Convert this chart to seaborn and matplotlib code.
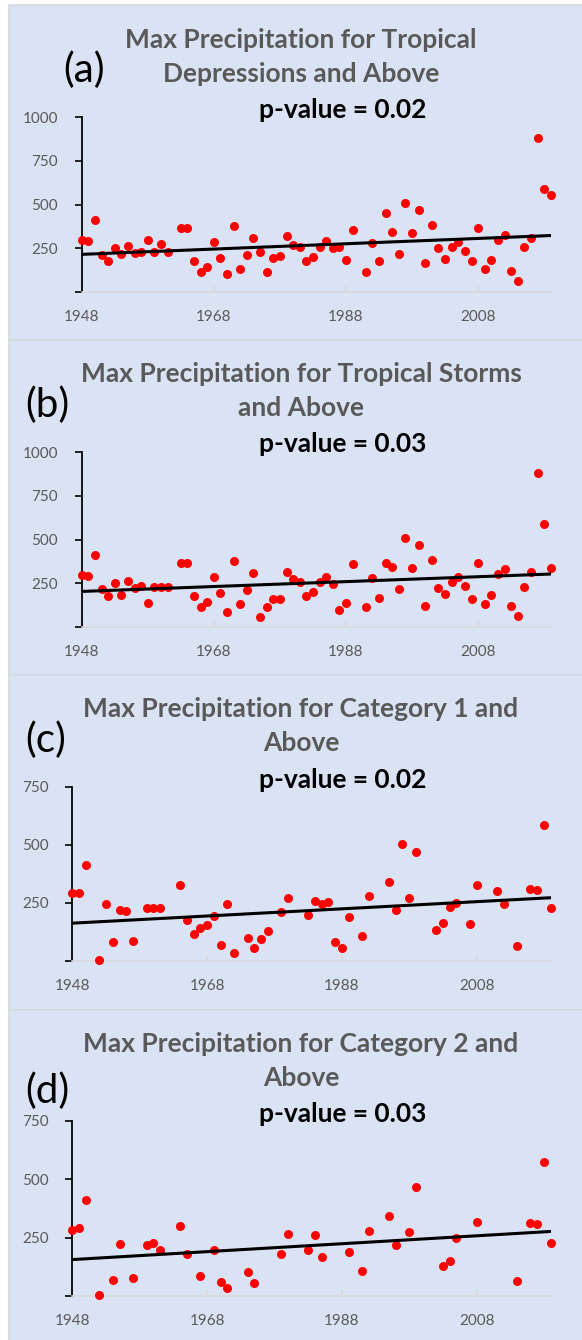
import matplotlib
matplotlib.use("Agg")
import matplotlib.pyplot as plt
import seaborn as sns
from matplotlib.patches import Rectangle

# ---------------- data ----------------
years_a = [1948, 1949, 1950, 1951, 1952, 1953, 1954, 1955, 1956, 1957, 1958, 1959, 1960, 1961,
           1963, 1964, 1965, 1966, 1967, 1968, 1969, 1970, 1971, 1972, 1973, 1974, 1975, 1976,
           1977, 1978, 1979, 1980, 1981, 1982, 1983, 1984, 1985, 1986, 1987, 1988, 1989,
           1991, 1992, 1993, 1994, 1995, 1996, 1997, 1998, 1999, 2000, 2001, 2002, 2003, 2004,
           2005, 2006, 2007, 2008, 2009, 2010, 2011, 2012, 2013, 2014, 2015, 2016, 2017, 2018, 2019]
precip_a = [298, 292, 412, 212, 176, 250, 218, 263, 221, 227, 298, 231, 277, 231,
            365, 365, 179, 116, 141, 284, 193, 103, 378, 130, 210, 309, 229, 116,
            195, 204, 321, 269, 256, 176, 198, 260, 290, 250, 260, 183, 355,
            116, 281, 179, 454, 344, 218, 508, 340, 469, 164, 384, 250, 191, 260,
            284, 237, 179, 365, 130, 183, 300, 328, 122, 63, 256, 309, 880, 588, 553]

years_b = [1948, 1949, 1950, 1951, 1952, 1953, 1954, 1955, 1956, 1957, 1958, 1959, 1960, 1961,
           1963, 1964, 1965, 1966, 1967, 1968, 1969, 1970, 1971, 1972, 1973, 1974, 1975, 1976,
           1977, 1978, 1979, 1980, 1981, 1982, 1983, 1984, 1985, 1986, 1987, 1988, 1989,
           1991, 1992, 1993, 1994, 1995, 1996, 1997, 1998, 1999, 2000, 2001, 2002, 2003, 2004,
           2005, 2006, 2007, 2008, 2009, 2010, 2011, 2012, 2013, 2014, 2015, 2016, 2017, 2018, 2019]
precip_b = [298, 292, 412, 218, 176, 250, 183, 263, 221, 237, 139, 231, 231, 231,
            365, 365, 179, 116, 141, 284, 193, 88, 378, 130, 210, 309, 59, 116,
            160, 160, 317, 275, 260, 176, 198, 260, 286, 246, 97, 135, 359,
            116, 281, 164, 365, 344, 218, 508, 340, 469, 120, 384, 225, 191, 260,
            288, 237, 160, 365, 130, 183, 305, 330, 122, 63, 227, 313, 880, 588, 340]

years_c = [1948, 1949, 1950, 1952, 1953, 1954, 1955, 1956, 1957, 1959, 1960, 1961, 1964, 1965,
           1966, 1967, 1968, 1969, 1970, 1971, 1972, 1974, 1975, 1976, 1977, 1979, 1980, 1983,
           1984, 1985, 1986, 1987, 1988, 1989, 1991, 1992, 1995, 1996, 1997, 1998, 1999, 2002,
           2003, 2004, 2005, 2007, 2008, 2011, 2012, 2014, 2016, 2017, 2018, 2019]
precip_c = [294, 291, 413, 5, 245, 80, 221, 216, 87, 230, 226, 230, 328, 177,
            118, 141, 155, 195, 67, 245, 35, 101, 57, 96, 127, 209, 271, 198,
            259, 245, 252, 83, 54, 188, 107, 278, 341, 219, 504, 272, 468, 133,
            165, 231, 248, 158, 327, 302, 244, 64, 311, 307, 585, 226]

years_d = [1948, 1949, 1950, 1952, 1954, 1955, 1957, 1959, 1960, 1961, 1964, 1965, 1967, 1969,
           1970, 1971, 1974, 1975, 1979, 1980, 1983, 1984, 1985, 1989, 1991, 1992, 1995, 1996,
           1998, 1999, 2003, 2004, 2005, 2008, 2014, 2016, 2017, 2018, 2019]
precip_d = [282, 290, 412, 5, 70, 222, 79, 219, 228, 198, 298, 179, 84, 195,
            59, 35, 101, 55, 178, 265, 197, 260, 167, 188, 108, 280, 341, 217,
            274, 468, 128, 151, 250, 318, 64, 311, 308, 575, 227]

panel_letters = ["(a)", "(b)", "(c)", "(d)"]
titles = ["Max Precipitation for Tropical\nDepressions and Above",
          "Max Precipitation for Tropical Storms\nand Above",
          "Max Precipitation for Category 1 and\nAbove",
          "Max Precipitation for Category 2 and\nAbove"]
pvalues = ["p-value = 0.02", "p-value = 0.03", "p-value = 0.02", "p-value = 0.03"]
xticks = [1948, 1968, 1988, 2008]
yticks_ab = [0, 250, 500, 750, 1000]
yticks_cd = [0, 250, 500, 750]

# ---------------- style ----------------
sns.set_theme(style="white")
plt.rcParams["font.family"] = ["Lato", "DejaVu Sans"]

W, H = 582, 1340
fig = plt.figure(figsize=(W / 100, H / 100), dpi=100, facecolor="white")


def fx(px):
    return px / W


def fy(py):
    return 1 - py / H


PANEL_BG = "#dae3f3"
GREY_TXT = "#595959"

# panel boxes (top, bottom) in pixels
boxes = [(5, 340), (340, 675), (675, 1010), (1010, 1350)]
for top, bot in boxes:
    fig.patches.append(Rectangle((fx(9), fy(bot)), fx(W + 10) - fx(9), (bot - top) / H,
                                 transform=fig.transFigure, facecolor=PANEL_BG,
                                 edgecolor="#d6dae0", lw=1.2, zorder=-5))

# axes geometry (left, right, top, bottom) in pixels
geoms = [(81.7, 550.8, 117.3, 292.0),
         (81.7, 550.8, 452.3, 627.0),
         (72.4, 550.7, 786.7, 961.0),
         (72.4, 550.7, 1120.7, 1296.0)]
letter_pos = [(84, 70), (47, 405), (46, 740), (47, 1091)]
title_pos = [(301, 57.5), (301, 391), (301, 726), (301, 1061)]
pval_pos = [(259, 109.5), (259, 444.5), (259, 779.5), (259, 1114)]

series = [(years_a, precip_a, yticks_ab), (years_b, precip_b, yticks_ab),
          (years_c, precip_c, yticks_cd), (years_d, precip_d, yticks_cd)]

for i, ((xs, ys, yt), (l, r, t, b)) in enumerate(zip(series, geoms)):
    ax = fig.add_axes([fx(l), fy(b), (r - l) / W, (b - t) / H])
    ax.set_facecolor("none")
    sns.regplot(x=xs, y=ys, ax=ax, ci=None, truncate=True,
                scatter_kws={"s": 42, "color": "#ff0000", "linewidths": 0,
                             "alpha": 1, "clip_on": False, "zorder": 3},
                line_kws={"color": "black", "lw": 2.2, "zorder": 4})
    ax.set_xlim(1948, 2019)
    ax.set_ylim(yt[0], yt[-1])
    ax.set_xticks(xticks)
    ax.set_xticklabels([str(v) for v in xticks])
    ax.set_yticks(yt)
    ax.set_yticklabels([""] + [str(v) for v in yt[1:]])
    ax.set_xlabel("")
    ax.set_ylabel("")
    for s in ["top", "right"]:
        ax.spines[s].set_visible(False)
    ax.spines["left"].set_color("black")
    ax.spines["left"].set_linewidth(1.3)
    ax.spines["bottom"].set_color("#d9d9d9")
    ax.spines["bottom"].set_linewidth(1.2)
    ax.tick_params(axis="y", direction="out", length=5, width=1.2, color="black",
                   labelcolor=GREY_TXT, labelsize=11, pad=12, left=True)
    ax.tick_params(axis="x", direction="in", length=4, width=1.2, color="#d9d9d9",
                   labelcolor=GREY_TXT, labelsize=11, pad=12.7, bottom=True)
    ax.grid(False)

    lx, ly = letter_pos[i]
    fig.text(fx(lx), fy(ly), panel_letters[i], fontsize=29, color="black",
             ha="center", va="center")
    tx, ty = title_pos[i]
    fig.text(fx(tx), fy(ty), titles[i], fontsize=19, fontweight="bold", color=GREY_TXT,
             ha="center", va="center", linespacing=1.5)
    px, py = pval_pos[i]
    fig.text(fx(px), fy(py), pvalues[i], fontsize=19, fontweight="bold", color="black",
             ha="left", va="center")

fig.savefig("out.png", dpi=100, facecolor="white")
